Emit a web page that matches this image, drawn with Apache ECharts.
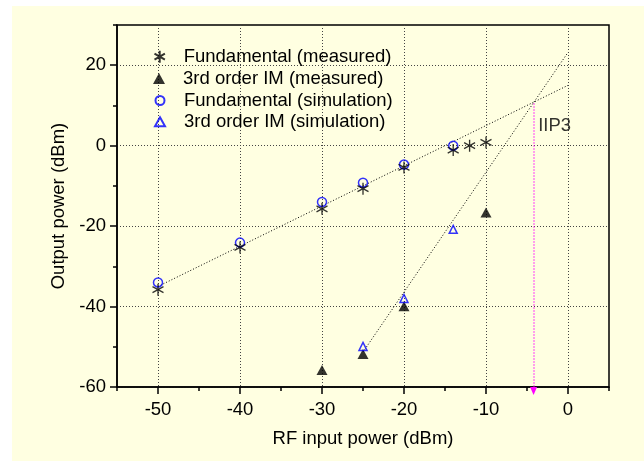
<!DOCTYPE html>
<html>
<head>
<meta charset="utf-8">
<script src="https://cdn.jsdelivr.net/npm/echarts@6/dist/echarts.min.js"></script>
<style>html,body{margin:0;padding:0;background:#fff;}#c{width:644px;height:461px;}</style>
</head>
<body>
<div id="c"></div>
<script>
const xTicks = [-50, -40, -30, -20, -10, 0];
const yTicks = [-60, -40, -20, 0, 20];
const fundMeasX = [-50, -40, -30, -25, -20, -14, -12, -10];
const fundMeasY = [-35.8, -25.3, -15.7, -10.7, -5.4, -1.1, 0, 0.8];
const imMeasX = [-30, -25, -20, -10];
const imMeasY = [-55.8, -51.8, -39.9, -16.6];
const fundSimX = [-50, -40, -30, -25, -20, -14];
const fundSimY = [-34.0, -24.1, -14.0, -9.2, -4.7, 0.0];
const imSimX = [-25, -20, -14];
const imSimY = [-49.9, -38.0, -20.8];
const fundFitX = [-50, 0];
const fundFitY = [-35, 15];
const imFitX = [-25, 0];
const imFitY = [-51.3, 23.2];
const iip3X = -4.2;
const iip3Top = 10.5;
const iip3Bottom = -60;
const iip3LabelPos = [-3.7, 4.9];
const legendNames = ['Fundamental (measured)', '3rd order IM (measured)', 'Fundamental (simulation)', '3rd order IM (simulation)'];

const zip = (xs, ys) => xs.map((x, i) => [x, ys[i]]);
const FONT = 'Liberation Sans, Arial, sans-serif';
const asterisk = 'path://M0,0L0,20M-8.66,5L8.66,15M-8.66,15L8.66,5';

// legend layout: icon sizes and row centers
const legendIcon = [[11, 12], [12, 11], [9, 9], [10, 9]];
const legendRowY = [56.7, 78.5, 100.5, 121.7];
const iconCX = 159, textX = 183;
const legends = legendNames.map((n, i) => {
  const w = legendIcon[i][0], h = legendIcon[i][1];
  return {
    orient: 'vertical', left: iconCX - w / 2, top: legendRowY[i] - 9.5, padding: 0,
    itemWidth: w, itemHeight: h, itemGap: 0, selectedMode: false,
    textStyle: {fontFamily: FONT, fontSize: 18.5, color: '#000', padding: [0, 0, 0, textX - (iconCX + w / 2) - 5]},
    data: [n]
  };
});

const chart = echarts.init(document.getElementById('c'), null, {renderer: 'canvas'});
chart.setOption({
  animation: false,
  backgroundColor: '#ffffff',
  graphic: [{
    type: 'rect', left: 12, top: 6, z: -100,
    shape: {width: 632, height: 455},
    style: {fill: '#FFFFE1'}
  }],
  grid: {
    left: 117, right: 35, top: 25, bottom: 74,
    show: true, borderColor: '#000', borderWidth: 1.5, backgroundColor: 'transparent'
  },
  legend: legends,
  xAxis: [{
    type: 'value', min: -55, max: 5, splitNumber: 6,
    name: 'RF input power (dBm)', nameLocation: 'middle', nameGap: 42,
    nameTextStyle: {fontFamily: FONT, fontSize: 18.5, color: '#000'},
    axisLine: {show: true, onZero: false, lineStyle: {color: '#000', width: 1.5}},
    axisTick: {show: true, inside: false, length: 7, lineStyle: {color: '#000', width: 1.5}, customValues: xTicks},
    axisLabel: {fontFamily: FONT, fontSize: 18.5, color: '#000', margin: 13, customValues: xTicks},
    splitLine: {show: true, lineStyle: {color: '#444', width: 1, type: [1, 2]}}
  }, {
    type: 'value', min: -55, max: 5, interval: 5, position: 'bottom',
    axisLine: {show: false, onZero: false},
    axisTick: {show: true, inside: false, length: 4, lineStyle: {color: '#000', width: 1.5}},
    axisLabel: {show: false},
    splitLine: {show: false}
  }],
  yAxis: [{
    type: 'value', min: -60, max: 30, interval: 20,
    name: 'Output power (dBm)', nameLocation: 'middle', nameGap: 47,
    nameTextStyle: {fontFamily: FONT, fontSize: 18.5, color: '#000'},
    axisLine: {show: true, onZero: false, lineStyle: {color: '#000', width: 1.5}},
    axisTick: {show: true, inside: false, length: 7, lineStyle: {color: '#000', width: 1.5}, customValues: yTicks},
    axisLabel: {fontFamily: FONT, fontSize: 18.5, color: '#000', margin: 11, customValues: yTicks},
    splitLine: {show: true, lineStyle: {color: '#444', width: 1, type: [1, 2]}}
  }, {
    type: 'value', min: -60, max: 30, interval: 10, position: 'left',
    axisLine: {show: false, onZero: false},
    axisTick: {show: true, inside: false, length: 4, lineStyle: {color: '#000', width: 1.5}},
    axisLabel: {show: false},
    splitLine: {show: false}
  }],
  series: [
    {
      type: 'line', data: zip(fundFitX, fundFitY), symbol: 'none', silent: true,
      lineStyle: {color: '#000', width: 1, type: [1, 2]}, z: 1
    },
    {
      type: 'line', data: zip(imFitX, imFitY), symbol: 'none', silent: true,
      lineStyle: {color: '#000', width: 1, type: [1, 2]}, z: 1,
      markLine: {
        silent: true, symbol: ['none', 'triangle'], symbolSize: [7, 8], symbolOffset: [0, [0, -4]],
        label: {show: false},
        lineStyle: {color: '#FF00FF', width: 1.5, type: [1, 2]},
        data: [[{coord: [iip3X, iip3Top]}, {coord: [iip3X, iip3Bottom]}]]
      }
    },
    {
      name: legendNames[2], type: 'scatter', data: zip(fundSimX, fundSimY),
      symbol: 'circle', symbolSize: 9,
      itemStyle: {color: 'rgba(0,0,0,0)', borderColor: '#0000FF', borderWidth: 1.5}, z: 3
    },
    {
      name: legendNames[0], type: 'scatter', data: zip(fundMeasX, fundMeasY),
      symbol: asterisk, symbolSize: [11, 12],
      itemStyle: {color: '#000', borderColor: '#000', borderWidth: 1.4}, z: 4
    },
    {
      name: legendNames[1], type: 'scatter', data: zip(imMeasX, imMeasY),
      symbol: 'triangle', symbolSize: [11, 10],
      itemStyle: {color: '#000'}, z: 4
    },
    {
      name: legendNames[3], type: 'scatter', data: zip(imSimX, imSimY),
      symbol: 'triangle', symbolSize: [8, 8],
      itemStyle: {color: 'rgba(0,0,0,0)', borderColor: '#0000FF', borderWidth: 1.5}, z: 5
    },
    {
      type: 'scatter', data: [iip3LabelPos], symbolSize: 1, silent: true,
      itemStyle: {color: 'rgba(0,0,0,0)'},
      label: {show: true, position: 'right', distance: 0, formatter: 'IIP3',
        fontFamily: FONT, fontSize: 18.5, color: '#000'}
    }
  ]
});
</script>
</body>
</html>
